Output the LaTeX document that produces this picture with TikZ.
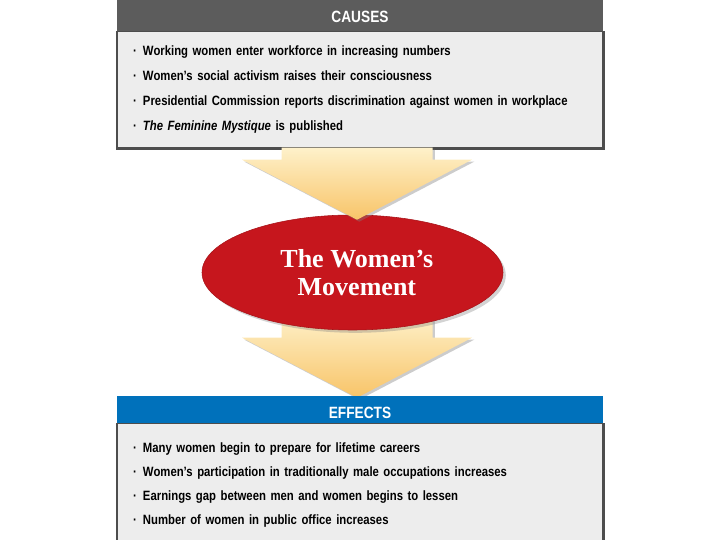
\documentclass[tikz,border=0pt]{standalone}
\usepackage{fontspec}
\setmainfont{Liberation Serif}
\newfontfamily\condsans[FakeStretch=0.84]{Liberation Sans}
\usepackage{tikz}
\usetikzlibrary{calc,positioning,shapes.geometric,shadows,backgrounds}
\definecolor{Slate}{HTML}{5C5C5C}
\definecolor{Panel}{HTML}{EDEDED}
\definecolor{Edge}{HTML}{4D4D4D}
\definecolor{Ocean}{HTML}{0071BB}
\definecolor{Crimson}{HTML}{C6161D}
\definecolor{Cream}{HTML}{FEF1CA}
\definecolor{Gold}{HTML}{F8C468}
\newcommand{\dotitem}{\makebox[0.25cm][l]{·}}
\tikzset{
  headbar/.style={minimum width=12.15cm,inner sep=0pt,text=white,text depth=0pt,
    font=\condsans\fontsize{11.6}{13}\selectfont\bfseries},
  listbox/.style={minimum width=12.15cm,text width=11.35cm,inner xsep=4mm,inner ysep=0pt,
    align=left,fill=Panel,draw=Edge,line width=0.8pt,text=black,
    font=\condsans\fontsize{9.6}{17.8}\selectfont\bfseries},
  edgeline/.style={draw=Edge,line width=2.6pt},
  bigarrow/.style={top color=Cream,bottom color=Gold,
    drop shadow={shadow xshift=1.6pt,shadow yshift=-1.4pt,opacity=0.4}},
  hub/.style={ellipse,minimum width=7.525cm,minimum height=2.875cm,inner sep=0pt,
    fill=Crimson,draw=Crimson!85!black,line width=0.4pt,text=white,align=center,
    font=\fontsize{18.5}{20.2}\selectfont\bfseries,
    drop shadow={shadow xshift=2pt,shadow yshift=-2pt,opacity=0.35}},
}

\begin{document}
\begin{tikzpicture}[x=1cm,y=1cm]
  \useasboundingbox (0,0) rectangle (18,13.5);

  % causes
  \node[headbar,fill=Slate,minimum height=0.775cm,text height=10.5pt] (causeshead) at (9.0,13.1125) {CAUSES};
  \node[listbox,minimum height=2.9cm,below=0pt of causeshead] (causesbody)
    {\dotitem Working women enter workforce in increasing numbers\\
     \dotitem Women’s social activism raises their consciousness\\
     \dotitem Presidential Commission reports discrimination against women in workplace\\
     \dotitem \textit{The Feminine Mystique} is published};
  \draw[edgeline] (causesbody.north east) -- (causesbody.south east) -- (causesbody.south west);

  % movement
  \node[hub] (movement) at (8.8125,6.6875) {\hspace*{0.22cm}The Women’s\\\hspace*{0.22cm}Movement};

  % effects
  \node[headbar,fill=Ocean,minimum height=0.675cm,text height=13.5pt] (effectshead) at (9.0,3.2625) {EFFECTS};
  \node[listbox,minimum height=3.075cm,below=0pt of effectshead,
    font=\condsans\fontsize{9.6}{17.07}\selectfont\bfseries] (effectsbody)
    {\dotitem Many women begin to prepare for lifetime careers\\
     \dotitem Women’s participation in traditionally male occupations increases\\
     \dotitem Earnings gap between men and women begins to lessen\\
     \dotitem Number of women in public office increases};
  \draw[edgeline] (effectsbody.north east) -- (effectsbody.south east);

  % arrows
  \coordinate (tiptop) at ($(movement.north)+(0.1125,-0.125)$);
  \coordinate (tipbot) at ($(effectshead.north)+(-0.075,-0.05)$);
  \shade[bigarrow] (tiptop) -- ++(2.875,1.5) -- ++(-0.9875,0) -- ++(0,0.3) -- ++(-3.775,0)
    -- ++(0,-0.3) -- ++(-0.9875,0) -- cycle;
  \begin{scope}[on background layer]
    \shade[bigarrow] (tipbot) -- ++(2.875,1.5) -- ++(-0.9875,0) -- ++(0,0.6) -- ++(-3.775,0)
      -- ++(0,-0.6) -- ++(-0.9875,0) -- cycle;
  \end{scope}
\end{tikzpicture}
\end{document}
